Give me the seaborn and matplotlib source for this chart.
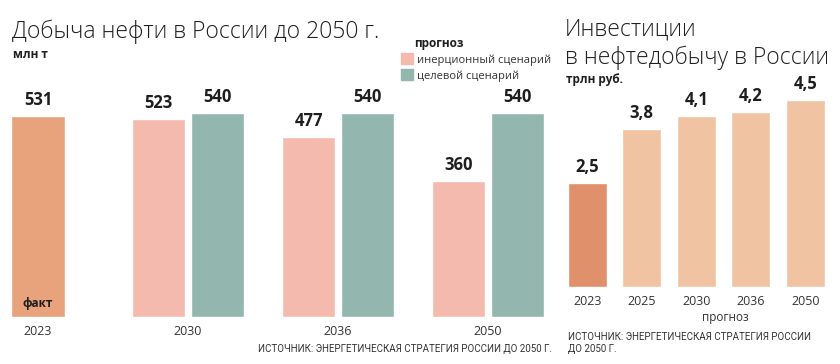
import pandas as pd
import matplotlib.pyplot as plt
import seaborn as sns
from matplotlib.patches import Patch

# данные: добыча нефти, млн т
years_oil = ['2023', '2030', '2036', '2050']
fact_oil = [531]
inert = [523, 477, 360]
target = [540, 540, 540]
scenarios = ['инерционный сценарий', 'целевой сценарий']

# данные: инвестиции, трлн руб.
years_inv = ['2023', '2025', '2030', '2036', '2050']
invest = [2.5, 3.8, 4.1, 4.2, 4.5]

c_fact = '#E8A27C'
c_inert = '#F5BAAE'
c_target = '#93B7AE'
c_inv_fact = '#E0906A'
c_inv_fc = '#F0C3A2'
txt = '#1e1e1e'
src = 'ИСТОЧНИК: ЭНЕРГЕТИЧЕСКАЯ СТРАТЕГИЯ РОССИИ'

sns.set_style('white')
plt.rcParams['font.family'] = ['Open Sans', 'DejaVu Sans']
plt.rcParams['text.color'] = txt
narrow = ['Roboto', 'DejaVu Sans']

df_fact = pd.DataFrame({'year': years_oil[:1], 'value': fact_oil})
df_fc = pd.DataFrame({
    'year': years_oil[1:] * 2,
    'value': inert + target,
    'scenario': [scenarios[0]] * 3 + [scenarios[1]] * 3,
})
df_inv = pd.DataFrame({'year': years_inv, 'value': invest})

fig = plt.figure(figsize=(8.4, 3.64), dpi=100)

# левый график
ax1 = fig.add_axes([0.0, 47 / 364, 560 / 840, 227 / 364])
sns.barplot(data=df_fact, x='year', y='value', order=years_oil, color=c_fact,
            width=0.354, saturation=1, ax=ax1)
sns.barplot(data=df_fc, x='year', y='value', hue='scenario', order=years_oil,
            hue_order=scenarios, palette=[c_inert, c_target], width=0.78, gap=0.09,
            saturation=1, legend=False, ax=ax1)
for cont in ax1.containers:
    ax1.bar_label(cont, fmt='%d', padding=5, fontsize=12, fontweight='bold', color=txt)
ax1.text(0, 36, 'факт', ha='center', va='center', fontsize=8.5, fontweight='bold')
ax1.set_xlim(-0.253, 3.48)
ax1.set_ylim(0, 600)

# правый график
ax2 = fig.add_axes([560 / 840, 77 / 364, 272.5 / 840, 208 / 364])
sns.barplot(data=df_inv, x='year', y='value', hue='year', order=years_inv,
            palette=[c_inv_fact] + [c_inv_fc] * 4, width=0.72, saturation=1,
            legend=False, ax=ax2)
for cont in ax2.containers:
    ax2.bar_label(cont, labels=[f'{v:.1f}'.replace('.', ',') for v in cont.datavalues],
                  padding=5, fontsize=12, fontweight='bold', color=txt)
ax2.set_xlim(-0.5, 4.5)
ax2.set_ylim(0, 5)

for ax in (ax1, ax2):
    sns.despine(ax=ax, left=True, bottom=True)
    ax.set_xlabel('')
    ax.set_ylabel('')
    ax.set_yticks([])
    ax.tick_params(axis='x', length=0, pad=6, labelsize=9, labelcolor='#333333')
    ax.patch.set_alpha(0)

# заголовки
fig.text(12 / 840, 1 - 32 / 364, 'Добыча нефти в России до 2050 г.', fontsize=16.5,
         fontweight='light', va='center', ha='left')
fig.text(13 / 840, 1 - 55 / 364, 'млн т', fontsize=8.5, fontweight='bold', va='center')
fig.text(565 / 840, 1 - 30 / 364, 'Инвестиции', fontsize=16.5, fontweight='light', va='center')
fig.text(565 / 840, 1 - 58 / 364, 'в нефтедобычу в России', fontsize=16.5,
         fontweight='light', va='center')
fig.text(566 / 840, 1 - 80 / 364, 'трлн руб.', fontsize=8.5, fontweight='bold', va='center')

# легенда
handles = [Patch(color=c_inert), Patch(color=c_target)]
leg = fig.legend(handles, scenarios, title='прогноз', loc='upper left',
                 bbox_to_anchor=(395 / 840, 1 - 31 / 364), frameon=False, fontsize=8,
                 title_fontproperties={'weight': 'bold', 'size': 8.5},
                 handlelength=1.1, handleheight=1.1, handletextpad=0.4,
                 labelspacing=0.35, alignment='left', borderpad=0)
leg.get_title().set_position((14, 0))
for t in leg.get_texts():
    t.set_color('#333333')

fig.text(725 / 840, 1 - 318 / 364, 'прогноз', fontsize=8.5, ha='center', va='center',
         color='#333333')

# источники
fig.text(258 / 840, 1 - 349 / 364, src + ' ДО 2050 Г.',
         fontsize=7, va='center', color='#333333', family=narrow)
fig.text(568 / 840, 1 - 343 / 364, src + '\nДО 2050 Г.',
         fontsize=7, va='center', color='#333333', linespacing=1.15, family=narrow)

fig.savefig('out.png', dpi=100)
